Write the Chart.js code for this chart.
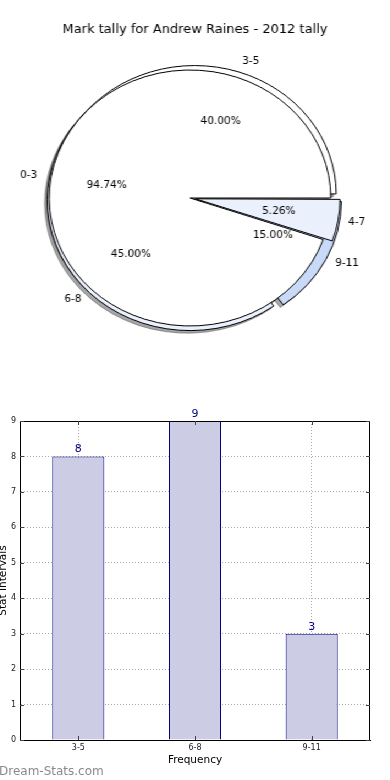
<!DOCTYPE html>
<html>
<head>
<meta charset="utf-8">
<script src="https://cdn.jsdelivr.net/npm/chart.js@4.4.1/dist/chart.umd.min.js"></script>
<style>
  html, body { margin: 0; padding: 0; background: #fff; }
  body { width: 390px; height: 780px; position: relative; overflow: hidden; font-family: "DejaVu Sans", sans-serif; }
  #pieBox { position: absolute; left: 0; top: 0; width: 390px; height: 396px; transform: scaleX(1.1); transform-origin: 190px 0; }
  #pieBox canvas { position: absolute; left: 0; top: 0; }
  #barCanvas { position: absolute; left: 0; top: 400px; }
  #mark { position: absolute; left: -1px; top: 764px; font: 12px "DejaVu Sans"; color: #8a8a8a; }
</style>
</head>
<body>
<div id="pieBox">
  <canvas id="pieBack" width="390" height="396"></canvas>
  <canvas id="pieFront" width="390" height="396"></canvas>
</div>
<canvas id="barCanvas" width="390" height="380"></canvas>
<div id="mark">Dream-Stats.com</div>
<script>
"use strict";

const pieTitle = "Mark tally for Andrew Raines - 2012 tally";

// front pie (drawn on top)
const frontLabels = ["0-3", "4-7"];
const frontValues = [18, 1];

// back pie (only its exploded rims show)
const backLabels = ["3-5", "6-8", "9-11"];
const backValues = [8, 9, 3];

// bar chart
const barLabels = ["3-5", "6-8", "9-11"];
const barValues = [8, 9, 3];
const barMax = 9;

const PIE_SX = 1.1; // the pie is a bit wider than tall
const FONT = '"DejaVu Sans", sans-serif';

// matplotlib goes counter-clockwise from 3 o'clock, chart.js clockwise,
// so the slices are fed in reverse and started at 90 deg
const rev = a => a.slice().reverse();

let frontChart, backChart;

function pieOptions(padLeft, padRight, radius) {
  return {
    responsive: false,
    animation: false,
    events: [],
    rotation: 90,
    radius: radius,
    layout: { padding: { left: padLeft, right: padRight, top: 0, bottom: 0 } },
    plugins: { legend: { display: false }, tooltip: { enabled: false } }
  };
}

// all shadows sit under every wedge (as matplotlib does), so they go
// on the back canvas before its wedges
const shadowPlugin = {
  id: "pieShadow",
  beforeDatasetsDraw(chart) {
    const c = chart.ctx;
    c.save();
    c.translate(-2.6, 2.6);
    c.fillStyle = "rgba(77,77,77,0.5)";
    c.strokeStyle = "rgba(77,77,77,0.5)";
    c.lineWidth = 1;
    [chart, frontChart].forEach(ch => {
      if (!ch) return;
      ch.getDatasetMeta(0).data.forEach(arc => {
        const mid = (arc.startAngle + arc.endAngle) / 2;
        const t = (arc.options.offset || 0) / 4;
        const circ = arc.endAngle - arc.startAngle;
        const r = arc.outerRadius + t * (1 - Math.sin(Math.min(Math.PI, circ)));
        const cx = arc.x + Math.cos(mid) * t;
        const cy = arc.y + Math.sin(mid) * t;
        c.beginPath();
        c.moveTo(cx, cy);
        c.arc(cx, cy, r, arc.startAngle, arc.endAngle);
        c.closePath();
        c.fill();
        c.stroke();
      });
    });
    c.restore();
  }
};

function drawText(c, txt, x, y, align, font) {
  c.save();
  c.translate(x, y);
  c.scale(1 / PIE_SX, 1);
  c.font = font;
  c.textAlign = align;
  c.textBaseline = "middle";
  c.fillStyle = "#000";
  c.fillText(txt, 0, 0);
  c.restore();
}

const pieText = {
  id: "pieText",
  afterDraw(chart) {
    const c = chart.ctx;
    drawText(c, pieTitle, 190 + 5 / PIE_SX, 30, "center", "13px " + FONT);
    [backChart, chart].forEach(ch => {
      if (!ch) return;
      const meta = ch.getDatasetMeta(0);
      const vals = ch.data.datasets[0].data;
      const total = vals.reduce((a, b) => a + b, 0);
      meta.data.forEach((arc, i) => {
        const mid = (arc.startAngle + arc.endAngle) / 2;
        const t = Math.min((arc.options.offset || 0) / 4, 5);
        const cx = arc.x + Math.cos(mid) * t;
        const cy = arc.y + Math.sin(mid) * t;
        const r = arc.outerRadius;
        const cos = Math.cos(mid), sin = Math.sin(mid);
        drawText(c, ch.data.labels[i], cx + cos * r * 1.1, cy + sin * r * 1.1,
          cos > 0 ? "left" : "right", "10.5px " + FONT);
        const pct = (vals[i] / total * 100).toFixed(2) + "%";
        drawText(c, pct, cx + cos * r * 0.6, cy + sin * r * 0.6, "center", "10.5px " + FONT);
      });
    });
  }
};

frontChart = new Chart(document.getElementById("pieFront"), {
  type: "pie",
  data: {
    labels: rev(frontLabels),
    datasets: [{
      data: rev(frontValues),
      backgroundColor: rev(["#ffffff", "#eaf0fc"]),
      borderColor: "#000",
      borderWidth: 1,
      offset: rev([0, 20])
    }]
  },
  options: pieOptions(0, 10, 128),
  plugins: [pieText]
});

backChart = new Chart(document.getElementById("pieBack"), {
  type: "pie",
  data: {
    labels: rev(backLabels),
    datasets: [{
      data: rev(backValues),
      backgroundColor: rev(["#ffffff", "#eaf0fc", "#c8daf8"]),
      borderColor: "#000",
      borderWidth: 1,
      offset: rev([16, 16, 28])
    }]
  },
  options: pieOptions(3, 7, 127),
  plugins: [shadowPlugin]
});

// redraw the front so it can place the back pie's labels too
frontChart.draw();

// ---- bar chart ----
const frameAndValues = {
  id: "frameAndValues",
  afterDraw(chart) {
    const c = chart.ctx;
    const a = chart.chartArea;
    c.save();
    c.strokeStyle = "#000";
    c.lineWidth = 1;
    c.strokeRect(a.left + 0.5, a.top + 0.5, a.right - a.left - 1, a.bottom - a.top);
    // small inward ticks like matplotlib
    c.strokeStyle = "#444";
    const ys = chart.scales.y;
    ys.ticks.forEach((tk, i) => {
      const y = Math.round(ys.getPixelForTick(i)) + 0.5;
      c.beginPath();
      c.moveTo(a.left, y); c.lineTo(a.left + 4, y);
      c.moveTo(a.right, y); c.lineTo(a.right - 4, y);
      c.stroke();
    });
    const xs = chart.scales.x;
    xs.ticks.forEach((tk, i) => {
      const x = Math.round(xs.getPixelForTick(i)) + 0.5;
      c.beginPath();
      c.moveTo(x, a.bottom); c.lineTo(x, a.bottom - 4);
      c.moveTo(x, a.top); c.lineTo(x, a.top + 4);
      c.stroke();
    });
    // value labels over the bars
    c.fillStyle = "#000080";
    c.font = "11px " + FONT;
    c.textAlign = "center";
    c.textBaseline = "alphabetic";
    chart.getDatasetMeta(0).data.forEach((bar, i) => {
      c.fillText(String(chart.data.datasets[0].data[i]), bar.x, bar.y - 4);
    });
    c.restore();
  }
};

new Chart(document.getElementById("barCanvas"), {
  type: "bar",
  data: {
    labels: barLabels,
    datasets: [{
      data: barValues,
      backgroundColor: "#ccccE4",
      borderColor: "#000080",
      borderWidth: 1,
      barPercentage: 0.446,
      categoryPercentage: 1
    }]
  },
  options: {
    responsive: false,
    animation: false,
    events: [],
    layout: { padding: { top: 21, right: 20, left: 0, bottom: 0 } },
    plugins: { legend: { display: false }, tooltip: { enabled: false } },
    scales: {
      x: {
        z: 1,
        grid: { offset: false, color: "#aaaaaa", drawTicks: false },
        border: { color: "#000", dash: [1, 2] },
        ticks: { color: "#222", padding: 3, font: { family: "DejaVu Sans", size: 8 } },
        title: { display: true, text: "Frequency", color: "#000",
          font: { family: "DejaVu Sans", size: 10.5 }, padding: { top: 0, bottom: 13 } },
        afterFit: s => { s.height = 40; }
      },
      y: {
        z: 1,
        min: 0,
        max: barMax,
        grid: { color: "#aaaaaa", drawTicks: false },
        border: { color: "#000", dash: [1, 2] },
        ticks: { stepSize: 1, color: "#222", padding: 4, font: { family: "DejaVu Sans", size: 8 } },
        title: { display: true, text: "Stat Intervals", color: "#000",
          font: { family: "DejaVu Sans", size: 10.5 }, padding: { top: -3, bottom: 0 } },
        afterFit: s => { s.width = 20; }
      }
    }
  },
  plugins: [frameAndValues]
});
</script>
</body>
</html>
